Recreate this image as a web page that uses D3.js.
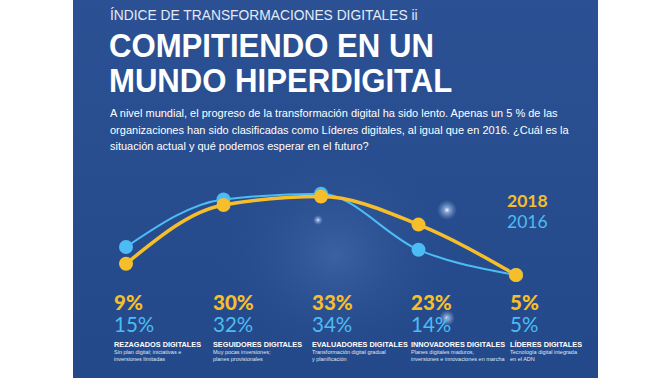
<!DOCTYPE html>
<html>
<head>
<meta charset="utf-8">
<script src="https://cdn.jsdelivr.net/npm/d3@7"></script>
<style>
  html, body { margin: 0; padding: 0; background: #fff; }
  svg { display: block; }
</style>
</head>
<body>
<div id="chart"></div>
<script>
let categories = ["REZAGADOS DIGITALES", "SEGUIDORES DIGITALES", "EVALUADORES DIGITALES", "INNOVADORES DIGITALES", "LÍDERES DIGITALES"];
let values2018 = [9, 30, 33, 23, 5];
let values2016 = [15, 32, 34, 14, 5];
let descriptions = [
  ["Sin plan digital; iniciativas e", "inversiones limitadas"],
  ["Muy pocas inversiones;", "planes provisionales"],
  ["Transformación digital gradual", "y planificación"],
  ["Planes digitales maduros,", "inversiones e innovaciones en marcha"],
  ["Tecnología digital integrada", "en el ADN"]
];
let kicker = "ÍNDICE DE TRANSFORMACIONES DIGITALES ii";
let titleLines = ["COMPITIENDO EN UN", "MUNDO HIPERDIGITAL"];
let intro = [
  "A nivel mundial, el progreso de la transformación digital ha sido lento. Apenas un 5 % de las",
  "organizaciones han sido clasificadas como Líderes digitales, al igual que en 2016. ¿Cuál es la",
  "situación actual y qué podemos esperar en el futuro?"
];

let width = 672, height = 378;
let panel = {left: 73, right: 598};
let yellow = "#f7be2b", blue = "#4cbcf4";

let svg = d3.select("#chart").append("svg")
  .attr("width", width).attr("height", height)
  .attr("viewBox", [0, 0, width, height]);

let defs = svg.append("defs");
let bg = defs.append("linearGradient").attr("id", "bg").attr("x1", 0).attr("y1", 0).attr("x2", 0).attr("y2", 1);
bg.append("stop").attr("offset", "0%").attr("stop-color", "#2b5194");
bg.append("stop").attr("offset", "100%").attr("stop-color", "#24498a");
let glow = defs.append("radialGradient").attr("id", "glow");
glow.append("stop").attr("offset", "0%").attr("stop-color", "#6f93cf").attr("stop-opacity", 0.3);
glow.append("stop").attr("offset", "100%").attr("stop-color", "#2b5194").attr("stop-opacity", 0);
let star = defs.append("radialGradient").attr("id", "star");
star.append("stop").attr("offset", "0%").attr("stop-color", "#ffffff").attr("stop-opacity", 1);
star.append("stop").attr("offset", "25%").attr("stop-color", "#cfe2ff").attr("stop-opacity", 0.6);
star.append("stop").attr("offset", "100%").attr("stop-color", "#8fb3ea").attr("stop-opacity", 0);

svg.append("rect")
  .attr("x", panel.left).attr("y", 0)
  .attr("width", panel.right - panel.left).attr("height", height)
  .attr("fill", "url(#bg)");

// soft light behind the chart
svg.append("ellipse").attr("cx", 335).attr("cy", 255).attr("rx", 120).attr("ry", 110).attr("fill", "url(#glow)");
svg.append("circle").attr("cx", 447).attr("cy", 210).attr("r", 10).attr("fill", "url(#star)");
svg.append("circle").attr("cx", 447).attr("cy", 318).attr("r", 8).attr("fill", "url(#star)");
svg.append("circle").attr("cx", 318).attr("cy", 220).attr("r", 5).attr("fill", "url(#star)");

// header texts
svg.append("text")
  .attr("x", 110).attr("y", 20)
  .attr("font-family", "Liberation Sans, Arial, sans-serif")
  .attr("font-size", 13.8).attr("fill", "#e3eaf5")
  .text(kicker);

svg.append("g")
  .attr("font-family", "Liberation Sans, Arial, sans-serif")
  .attr("font-weight", "bold").attr("font-size", 34).attr("fill", "#ffffff")
  .attr("transform", "translate(109,0) scale(0.915,1)")
  .selectAll("text").data(titleLines).join("text")
  .attr("x", 0).attr("y", (d, i) => 57 + i * 35)
  .text(d => d);

svg.append("g")
  .attr("font-family", "Liberation Sans, Arial, sans-serif")
  .attr("font-size", 11).attr("fill", "#ffffff")
  .selectAll("text").data(intro).join("text")
  .attr("x", 110).attr("y", (d, i) => 117 + i * 16.5)
  .text(d => d);

// scales
let x = d3.scalePoint().domain(categories).range([126, 516]);
let y = d3.scaleLinear().domain([0, 40]).range([289, 177]);
let lx = d3.scalePoint().domain(categories).range([114, 510]);

let line = d3.line()
  .x((d, i) => x(categories[i]))
  .y(d => y(d))
  .curve(d3.curveMonotoneX);

svg.append("path")
  .datum(values2016)
  .attr("fill", "none").attr("stroke", blue).attr("stroke-width", 2)
  .attr("d", line);

svg.append("path")
  .datum(values2018)
  .attr("fill", "none").attr("stroke", yellow).attr("stroke-width", 3.5)
  .attr("d", line);

svg.append("g").selectAll("circle").data(values2016).join("circle")
  .attr("cx", (d, i) => x(categories[i]))
  .attr("cy", d => y(d))
  .attr("r", 7).attr("fill", blue);

svg.append("g").selectAll("circle").data(values2018).join("circle")
  .attr("cx", (d, i) => x(categories[i]))
  .attr("cy", d => y(d))
  .attr("r", 7).attr("fill", yellow);

// legend
svg.append("text")
  .attr("x", 507).attr("y", 207)
  .attr("font-family", "Lato, Roboto, sans-serif").attr("font-weight", "bold")
  .attr("font-size", 17.5).attr("fill", yellow)
  .text("2018");
svg.append("text")
  .attr("x", 507).attr("y", 228)
  .attr("font-family", "Lato, Roboto, sans-serif")
  .attr("font-size", 17.5).attr("fill", blue)
  .text("2016");

// bottom labels
let cols = svg.append("g").selectAll("g").data(categories).join("g")
  .attr("transform", c => `translate(${lx(c)},0)`);

cols.append("text")
  .attr("y", 310)
  .attr("font-family", "Lato, Roboto, sans-serif").attr("font-weight", 900)
  .attr("font-size", 20.5).attr("fill", yellow)
  .text((c, i) => values2018[i] + "%");

cols.append("text")
  .attr("y", 332)
  .attr("font-family", "Lato, Roboto, sans-serif").attr("font-weight", 400)
  .attr("font-size", 20.5).attr("fill", blue)
  .text((c, i) => values2016[i] + "%");

cols.append("text")
  .attr("y", 346.5)
  .attr("font-family", "Liberation Sans, Arial, sans-serif").attr("font-weight", "bold")
  .attr("font-size", 7.3).attr("fill", "#ffffff")
  .text(c => c);

cols.append("g")
  .attr("font-family", "Liberation Sans, Arial, sans-serif")
  .attr("font-size", 5.5).attr("fill", "#dde6f4")
  .selectAll("text").data((c, i) => descriptions[i]).join("text")
  .attr("y", (d, j) => 354 + j * 7)
  .text(d => d);
</script>
</body>
</html>
